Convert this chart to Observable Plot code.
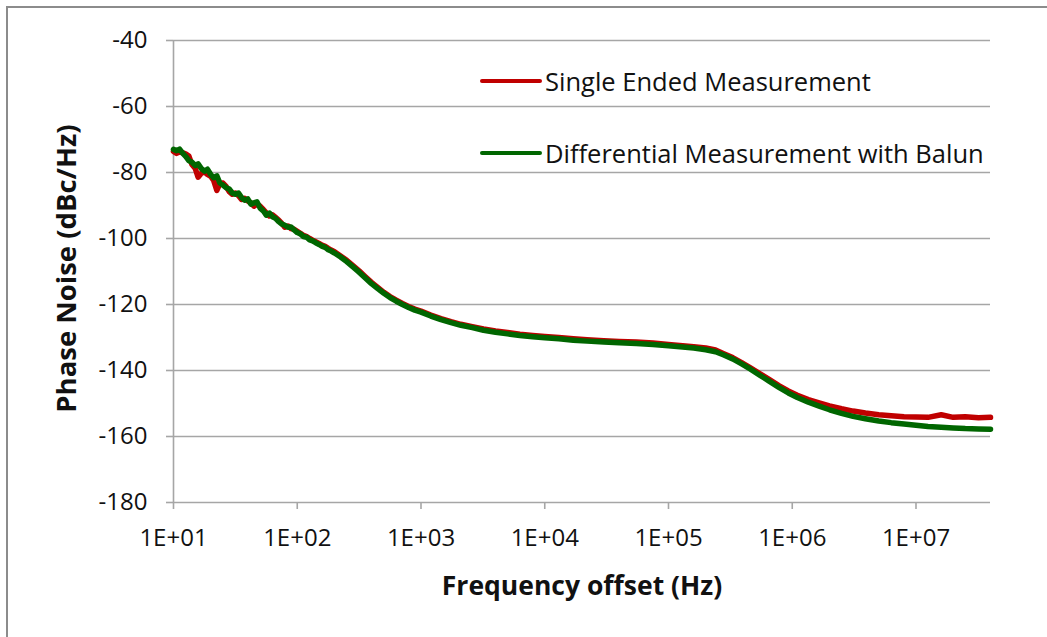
<!DOCTYPE html>
<html><head>
<meta charset="utf-8">
<script src="https://cdn.jsdelivr.net/npm/d3@7"></script>
<script src="https://cdn.jsdelivr.net/npm/@observablehq/plot@0.6"></script>
<style>
body{margin:0;background:#fff;}
#wrap{position:relative;width:1047px;height:637px;overflow:hidden;background:#fff;}
#frame{position:absolute;left:6px;top:6px;width:1100px;height:700px;border-left:2px solid #8c8c8c;border-top:2px solid #8c8c8c;pointer-events:none;}
#chart{position:absolute;left:0;top:0;}
.leg{position:absolute;left:480px;display:flex;align-items:center;font-family:'Open Sans',Lato,sans-serif;font-size:25.5px;color:#111;white-space:nowrap;}
.leg .sw{width:62px;height:4px;margin-right:3px;border-radius:2px;}
</style></head><body>
<div id="wrap"><div id="chart"></div><div id="frame"></div><div id="legend"></div></div>
<script>
const seriesNames = ["Single Ended Measurement", "Differential Measurement with Balun"];
const seriesColors = ["#c00000", "#006600"];
const xTicks = [1e1, 1e2, 1e3, 1e4, 1e5, 1e6, 1e7];
const yTicks = [-40, -60, -80, -100, -120, -140, -160, -180];

const freq = [10, 10.6, 11.2, 11.9, 12.6, 13.3, 14.1, 15, 15.8, 16.8, 17.8, 18.8, 20, 21.1, 22.4, 23.7, 25.1, 26.6, 28.2, 29.9,
  31.6, 33.5, 35.5, 37.6, 39.8, 42.2, 44.7, 47.3, 50.1, 53.1, 56.2, 59.6, 63.1, 66.8, 70.8, 75, 79.4, 84.1, 89.1, 94.4,
  100, 106, 112, 119, 126, 133, 141, 150, 158, 168, 178, 188, 200, 224, 251, 282, 316, 355, 398, 447, 501, 562, 631, 708, 794, 891,
  1000, 1200, 1450, 1750, 2100, 2600, 3200, 4000, 5000, 6300, 8000,
  10000, 13000, 17000, 22000, 30000, 40000, 55000, 75000,
  100000, 130000, 160000, 200000, 240000, 280000, 330000, 390000, 460000, 550000, 650000, 780000, 930000,
  1100000, 1350000, 1650000, 2000000, 2500000, 3100000, 3900000, 5000000, 6300000, 8000000,
  10000000, 12500000, 16000000, 20000000, 25000000, 32000000, 40000000];

const singleEnded = [-73.6, -74.2, -73.8, -74.0, -74.4, -75.0, -77.6, -78.8, -81.4, -80.2, -79.8, -80.6, -81.2, -82.4, -85.4, -83.4, -83.2, -84.2, -85.8, -86.6,
  -86.2, -87.0, -88.2, -87.8, -88.6, -89.2, -90.2, -89.6, -90.2, -91.2, -92.2, -93.2, -92.8, -93.6, -94.4, -95.4, -96.6, -96.2, -97.0, -97.2,
  -97.8, -98.4, -99.0, -99.4, -100.0, -100.5, -101.0, -101.5, -102.0, -102.4, -103.0, -103.5, -104.0, -105.3, -106.6, -108.2, -109.8, -111.6, -113.3, -114.8, -116.3, -117.6, -118.7, -119.7, -120.6, -121.4,
  -122.0, -123.2, -124.3, -125.2, -126.0, -126.7, -127.4, -128.0, -128.5, -129.0, -129.4,
  -129.7, -130.0, -130.4, -130.7, -131.0, -131.2, -131.4, -131.7,
  -132.1, -132.5, -132.8, -133.2, -133.8, -134.9, -136.1, -137.6, -139.2, -141.0, -142.7, -144.6, -146.2,
  -147.5, -148.8, -149.8, -150.7, -151.6, -152.3, -152.9, -153.4, -153.7, -154.0,
  -154.1, -154.2, -153.4, -154.2, -154.0, -154.3, -154.2];

const differential = [-73.0, -73.4, -72.9, -74.2, -75.2, -76.4, -76.9, -77.9, -77.4, -78.8, -79.6, -79.0, -80.6, -81.6, -81.0, -83.2, -83.8, -84.6, -85.0, -86.2,
  -86.6, -86.2, -87.6, -88.4, -88.0, -89.6, -89.2, -88.9, -90.8, -91.6, -92.9, -92.3, -93.4, -93.9, -94.9, -95.6, -96.0, -96.6, -96.5, -97.4,
  -98.2, -98.6, -99.4, -99.6, -100.4, -100.7, -101.3, -101.8, -102.3, -102.7, -103.4, -103.8, -104.4, -105.6, -107.0, -108.6, -110.2, -112.0, -113.7, -115.2, -116.6, -117.9, -119.0, -120.0, -120.9, -121.7,
  -122.3, -123.5, -124.6, -125.5, -126.3, -127.0, -127.8, -128.4, -128.9, -129.4, -129.8,
  -130.1, -130.4, -130.8, -131.1, -131.4, -131.6, -131.8, -132.1,
  -132.5, -132.9, -133.2, -133.7, -134.3, -135.3, -136.5, -138.0, -139.6, -141.5, -143.2, -145.1, -146.8,
  -148.2, -149.6, -150.8, -151.9, -153.0, -153.9, -154.6, -155.3, -155.8, -156.2,
  -156.6, -157.0, -157.2, -157.4, -157.6, -157.7, -157.8];

const rows = [];
[singleEnded, differential].forEach((vals, s) => {
  vals.forEach((v, i) => rows.push({f: freq[i], v, s: seriesNames[s]}));
});

const FONT = "'Open Sans', Lato, sans-serif";
const GRID = "#a6a6a6";
const fmtX = d => "1E+" + String(Math.round(Math.log10(d))).padStart(2, "0");
const fmtY = d => String(d);

const chart = Plot.plot({
  width: 1047, height: 637,
  marginLeft: 173, marginRight: 57, marginTop: 40, marginBottom: 135,
  style: {fontFamily: FONT, fontSize: "24px", color: "#111", background: "transparent", overflow: "visible"},
  x: {type: "log", domain: [10, 4e7]},
  y: {domain: [-180, -40]},
  color: {domain: seriesNames, range: seriesColors},
  marks: [
    Plot.gridY(yTicks, {stroke: GRID, strokeOpacity: 1, strokeWidth: 1.6}),
    Plot.ruleX([10], {stroke: GRID, strokeWidth: 1.6}),
    Plot.axisY(yTicks, {tickSize: 7, tickPadding: 19, stroke: GRID, strokeWidth: 1.6, strokeOpacity: 1, tickFormat: fmtY, label: null, fontSize: 24}),
    Plot.axisX(xTicks, {tickSize: 7, tickPadding: 19, stroke: GRID, strokeWidth: 1.6, strokeOpacity: 1, tickFormat: fmtX, label: null, fontSize: 24}),
    Plot.line(rows, {x: "f", y: "v", z: "s", stroke: "s", strokeWidth: 5.5, strokeLinejoin: "round", strokeLinecap: "round"}),
    Plot.text(["Frequency offset (Hz)"], {frameAnchor: "bottom", dy: 92, fontWeight: "bold", fontSize: 26.5, fill: "#111"}),
    Plot.text(["Phase Noise (dBc/Hz)"], {frameAnchor: "left", textAnchor: "middle", dx: -106, dy: -3, rotate: -90, fontWeight: "bold", fontSize: 27.5, fill: "#111"})
  ]
});
document.getElementById("chart").appendChild(chart);

const legendY = [81, 153];
const leg = document.getElementById("legend");
seriesNames.forEach((name, i) => {
  const d = document.createElement("div");
  d.className = "leg";
  d.style.top = (legendY[i] - 16) + "px";
  d.style.height = "32px";
  d.innerHTML = `<span class="sw" style="background:${seriesColors[i]}"></span><span>${name}</span>`;
  leg.appendChild(d);
});
</script>
</body></html>
